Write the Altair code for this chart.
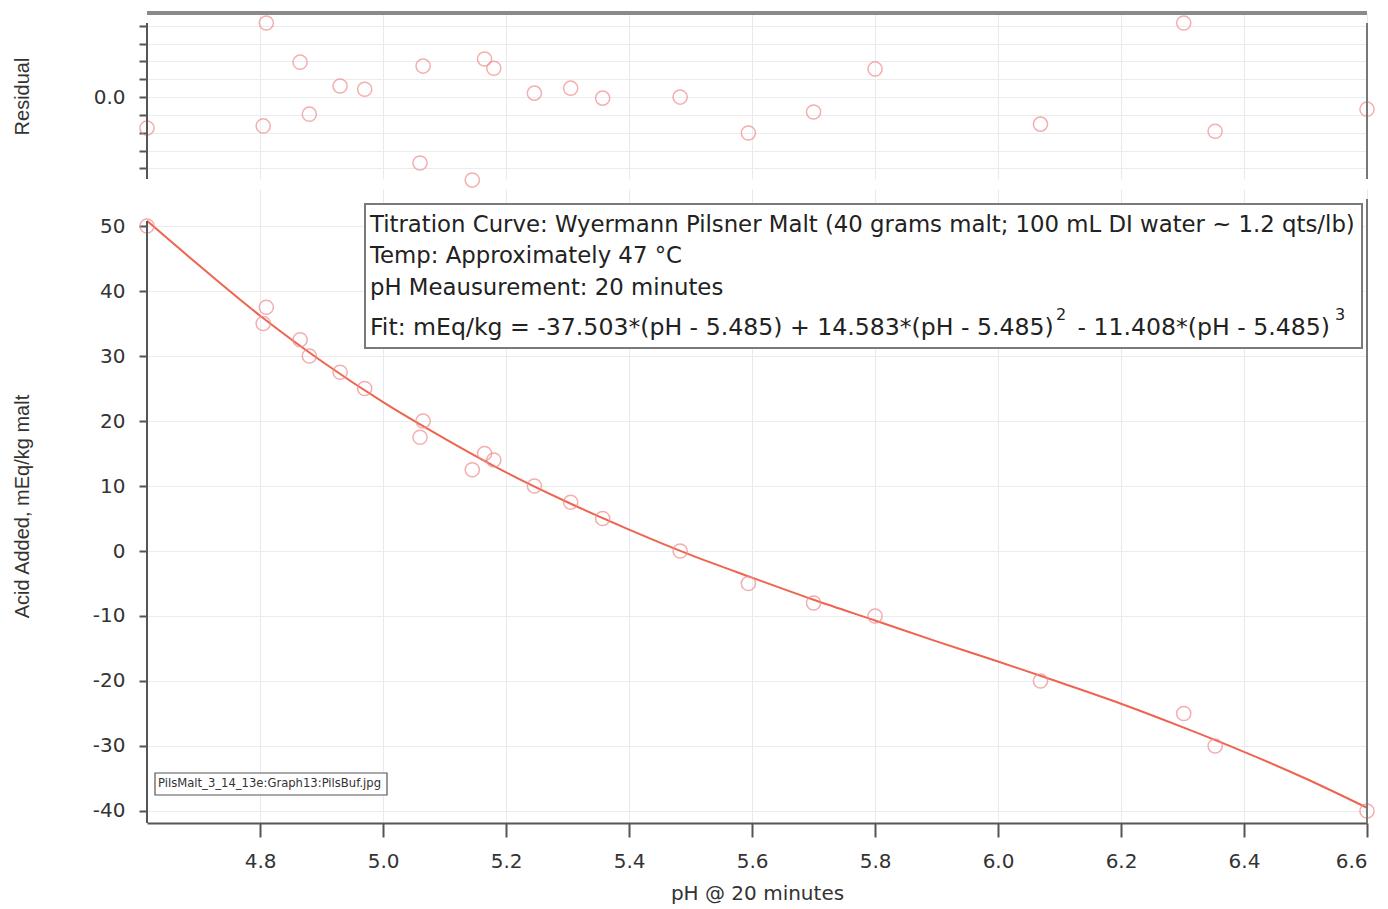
import altair as alt
import pandas as pd

# ---- data ----
ph = [4.616, 4.81, 4.805, 4.865, 4.88, 4.93, 4.97, 5.065, 5.06, 5.165, 5.18, 5.145,
      5.246, 5.305, 5.357, 5.483, 5.594, 5.70, 5.80, 6.069, 6.302, 6.353, 6.60]
acid = [50, 37.5, 35, 32.5, 30, 27.5, 25, 20, 17.5, 15, 14, 12.5,
        10, 7.5, 5, 0, -5, -8, -10, -20, -25, -30, -40]
resid = [-0.87, 2.08, -0.81, 0.98, -0.48, 0.31, 0.22, 0.87, -1.85, 1.07, 0.81, -2.33,
         0.11, 0.25, -0.03, 0.0, -1.01, -0.42, 0.79, -0.76, 2.08, -0.96, -0.34]

fit_ph = [4.616, 4.7, 4.8, 4.9, 5.0, 5.1, 5.2, 5.3, 5.4, 5.5, 5.6, 5.7, 5.8, 5.9,
          6.0, 6.1, 6.2, 6.3, 6.4, 6.5, 6.6]
fit_acid = [50.8, 44.0, 36.2, 29.2, 22.9, 17.3, 12.1, 7.5, 3.3, -0.6, -4.1, -7.5,
            -10.7, -13.9, -17.0, -20.2, -23.5, -27.1, -30.9, -35.0, -39.5]

x_ticks = [4.8, 5.0, 5.2, 5.4, 5.6, 5.8, 6.0, 6.2, 6.4, 6.6]
y_ticks = [-40, -30, -20, -10, 0, 10, 20, 30, 40, 50]
r_ticks = [-2.0, -1.5, -1.0, -0.5, 0.0, 0.5, 1.0, 1.5, 2.0]

note_lines = [
    "Titration Curve: Wyermann Pilsner Malt (40 grams malt; 100 mL DI water ~ 1.2 qts/lb)",
    "Temp: Approximately 47 °C",
    "pH Meausurement: 20 minutes",
]
fit_parts = [
    "Fit: mEq/kg = -37.503*(pH - 5.485) + 14.583*(pH - 5.485)",
    "- 11.408*(pH - 5.485)",
]
fit_sups = ["2", "3"]
tag_text = "PilsMalt_3_14_13e:Graph13:PilsBuf.jpg"

# ---- styling ----
W = 1220
H_RES = 166
H_MAIN = 634
FONT = "Liberation Sans"
TFONT = "DejaVu Sans"
PT = "#f08c8c"
LINE = "#ee6450"
AX = "#555555"
GRID = "#e9eaf0"

pts_df = pd.DataFrame({"ph": ph, "acid": acid, "resid": resid})
fit_df = pd.DataFrame({"ph": fit_ph, "acid": fit_acid})

xscale = alt.Scale(domain=[4.616, 6.6], nice=False, zero=False)

# ---------------- residual panel ----------------
res_x = alt.X("ph:Q", scale=xscale,
              axis=alt.Axis(title=None, labels=False, ticks=False, domain=False,
                            grid=True, gridColor=GRID, values=x_ticks))
res_pts = alt.Chart(pts_df).mark_point(
    shape="circle", filled=False, size=200, strokeWidth=1.5, color=PT
).encode(
    x=res_x,
    y=alt.Y("resid:Q", scale=alt.Scale(domain=[-2.30, 2.36], nice=False, zero=False),
            axis=alt.Axis(title="Residual", values=r_ticks,
                          labelExpr="datum.value == 0 ? '0.0' : ''",
                          grid=True, gridColor="#ececef", domain=False,
                          tickSize=8, tickWidth=2, tickColor=AX,
                          labelFont=TFONT, labelFontSize=20, labelPadding=14,
                          labelColor="#333",
                          titleFontSize=20, titleFont=FONT, titleColor="#333",
                          titleFontWeight="normal",
                          minExtent=95, maxExtent=95, titlePadding=20)),
)
res_left = alt.Chart(pts_df).mark_rule(color=AX, strokeWidth=2).encode(
    x=alt.value(0), y=alt.value(10), y2=alt.value(H_RES))
res_right = alt.Chart(pts_df).mark_rule(color="#777", strokeWidth=2).encode(
    x=alt.value(W), y=alt.value(10), y2=alt.value(H_RES))
res_top = alt.Chart(pts_df).mark_rule(color="#8a8a8a", strokeWidth=3).encode(
    x=alt.value(0), x2=alt.value(W), y=alt.value(0))

res_chart = alt.layer(res_pts, res_left, res_right, res_top).properties(
    width=W, height=H_RES)

# ---------------- main panel ----------------
main_x = alt.X("ph:Q", scale=xscale,
               axis=alt.Axis(title="pH @ 20 minutes", values=x_ticks, format=".1f",
                             grid=True, gridColor=GRID,
                             domain=True, domainColor=AX, domainWidth=2,
                             tickSize=14, tickWidth=2, tickColor=AX,
                             labelFont=TFONT, labelFontSize=20, labelPadding=14,
                             labelColor="#333",
                             titleFont=TFONT, titleFontSize=20, titleFontWeight="normal",
                             titleColor="#333", titlePadding=12))
main_y = alt.Y("acid:Q", scale=alt.Scale(domain=[-41.85, 55.7], nice=False, zero=False),
               axis=alt.Axis(title="Acid Added, mEq/kg malt", values=y_ticks,
                             labelExpr="'' + datum.value",
                             grid=True, gridColor="#ececef", domain=False,
                             tickSize=8, tickWidth=2, tickColor=AX,
                             labelFont=TFONT, labelFontSize=20, labelPadding=14,
                             labelColor="#333",
                             titleFont=FONT, titleFontSize=20, titleColor="#333",
                             titleFontWeight="normal",
                             minExtent=95, maxExtent=95, titlePadding=20))

fit_line = alt.Chart(fit_df).mark_line(color=LINE, strokeWidth=2,
                                       interpolate="monotone").encode(x=main_x, y=main_y)
main_pts = alt.Chart(pts_df).mark_point(
    shape="circle", filled=False, size=200, strokeWidth=1.5, color=PT
).encode(x=main_x, y=main_y)

main_left = alt.Chart(pts_df).mark_rule(color=AX, strokeWidth=2).encode(
    x=alt.value(0), y=alt.value(32), y2=alt.value(H_MAIN))
main_right = alt.Chart(pts_df).mark_rule(color="#777", strokeWidth=2).encode(
    x=alt.value(W), y=alt.value(10), y2=alt.value(H_MAIN))

note_df = pd.DataFrame({"t": ["box"]})
note_box = alt.Chart(note_df).mark_rect(
    fill="white", stroke="#7a7a7a", strokeWidth=2
).encode(x=alt.value(218), x2=alt.value(1215), y=alt.value(15), y2=alt.value(159))


def txt(s, x, y, size, align="left"):
    return alt.Chart(pd.DataFrame({"t": [s]})).mark_text(
        align=align, baseline="middle", font=TFONT, fontSize=size, color="#222"
    ).encode(text="t:N", x=alt.value(x), y=alt.value(y))


note_layers = []
for line, yy in zip(note_lines, [36, 67, 99]):
    note_layers.append(txt(line, 223, yy, 22.8))
note_layers.append(txt(fit_parts[0], 223, 139, 23.6))
note_layers.append(txt(fit_sups[0], 909, 126, 16))
note_layers.append(txt(fit_parts[1], 1183, 139, 23.6, align="right"))
note_layers.append(txt(fit_sups[1], 1188, 126, 16))

tag_box = alt.Chart(note_df).mark_rect(
    fill="white", stroke="#555", strokeWidth=1.2
).encode(x=alt.value(8), x2=alt.value(240), y=alt.value(584), y2=alt.value(606))
tag = alt.Chart(pd.DataFrame({"t": [tag_text]})).mark_text(
    align="left", baseline="middle", font=TFONT, fontSize=11.6, color="#333"
).encode(text="t:N", x=alt.value(11), y=alt.value(595))

main_chart = alt.layer(
    fit_line, main_pts, main_left, main_right, note_box, *note_layers, tag_box, tag
).properties(width=W, height=H_MAIN)

chart = alt.vconcat(res_chart, main_chart, spacing=10, bounds="flush").configure(
    padding={"left": 12, "top": 11, "right": 5, "bottom": 2},
    font=FONT,
    background="white",
).configure_view(stroke=None).configure_axis(
    labelFont=TFONT, titleFont=FONT
)

chart.save("out.html", embed_options={"renderer": "svg", "actions": False})
